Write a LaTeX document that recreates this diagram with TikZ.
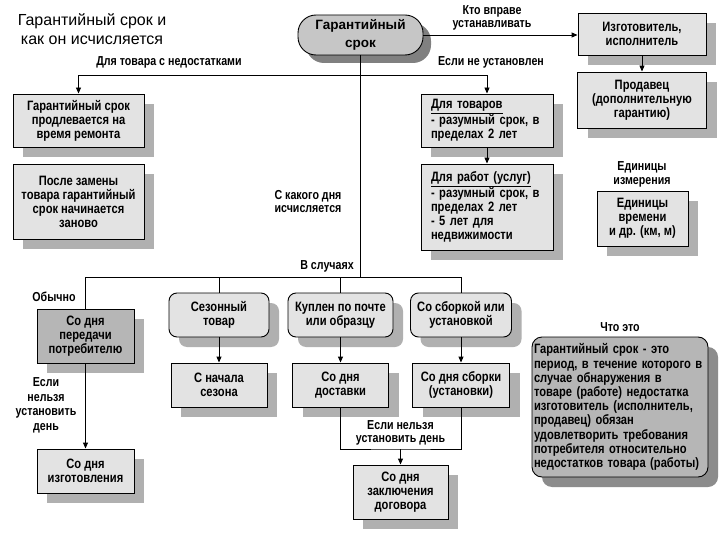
\documentclass[tikz,border=0pt]{standalone}
\usepackage{fontspec}
\setmainfont{Liberation Sans}
\newfontfamily\condf{Liberation Sans}[FakeStretch=0.82]
\usetikzlibrary{arrows.meta,shadows}
\definecolor{boxfill}{HTML}{E3E3E3}
\definecolor{shlight}{HTML}{B0B0B0}
\definecolor{rootfill}{HTML}{C6C6C6}
\definecolor{rootsh}{HTML}{808080}
\definecolor{darkfill}{HTML}{B6B6B6}
\definecolor{bigsh}{HTML}{8C8C8C}
\newcommand\bxfont{\condf\fontsize{13.6}{14}\selectfont\bfseries}
\newcommand\lbfont{\condf\fontsize{13}{13.5}\selectfont\bfseries}
\newcommand\rootfont{\fontsize{13.5}{18}\selectfont\bfseries}
\newcommand\ttlfont{\fontsize{16}{18.5}\selectfont}
\begin{document}
\begin{tikzpicture}[x=1pt,y=-1pt,
  wh/.style 2 args={minimum width=#1, minimum height=#2},
  base/.style={draw=black, line width=0.9pt, inner sep=2pt, align=center, font=\bxfont},
  lbox/.style={base, fill=boxfill, general shadow={fill=shlight, shadow xshift=10pt, shadow yshift=-10pt}},
  rbox/.style={lbox, rounded corners=8pt},
  dbox/.style={base, fill=darkfill, general shadow={fill=shlight, shadow xshift=10pt, shadow yshift=-10pt}},
  rootbox/.style={base, font=\rootfont, fill=rootfill, rounded corners=18pt, general shadow={fill=rootsh, shadow xshift=8pt, shadow yshift=-8pt}},
  bigbox/.style={base, fill=darkfill, rounded corners=10pt, general shadow={fill=bigsh, shadow xshift=10pt, shadow yshift=-10pt}},
  lbl/.style={font=\lbfont, align=center, inner sep=0pt},
  conn/.style={draw=black, line width=0.9pt},
  arr/.style={conn, -{Triangle[length=6pt,width=5pt]}}
]
\useasboundingbox (0,0) rectangle (720,540);
\fill[white] (0,0) rectangle (720,540);

% title
\node[font=\ttlfont, align=center, inner sep=0pt] (title) at (92,29) {Гарантийный срок и\\как он исчисляется};

% root and top right
\node[rootbox, wh={125pt}{40pt}] (root) at (360.5,35) {Гарантийный\\срок};
\node[lbox, wh={128pt}{42pt}] (izg) at (642,34) {Изготовитель,\\исполнитель};
\node[lbox, wh={129pt}{56pt}] (prod) at (642,100) {Продавец\\(дополнительную\\гарантию)};
\node[lbl] (kto) at (492,18) {Кто вправе\\устанавливать};

% left column
\node[lbox, wh={131pt}{53pt}] (prodl) at (78.5,120.5) {Гарантийный срок\\продлевается на\\время ремонта};
\node[lbox, wh={131pt}{75pt}] (zamena) at (78.5,201.5) {После замены\\товара гарантийный\\срок  начинается\\заново};
\node[lbl] (nedost) at (169,62) {Для товара с недостатками};

% right column
\node[lbox, wh={132pt}{53pt}, text width=112pt, inner xsep=10pt, align=left] (tovary) at (487,120.5) {\underline{Для товаров}\\- разумный срок,  в\\пределах 2 лет};
\node[lbox, wh={132pt}{86pt}, text width=112pt, inner xsep=10pt, align=left] (raboty) at (487,207) {\underline{Для работ (услуг)}\\- разумный срок,  в\\пределах 2 лет\\-  5 лет для\\недвижимости};
\node[lbl] (neust) at (491,62) {Если не установлен};
\node[lbl] (edlbl) at (642,174.5) {Единицы\\измерения};
\node[lbox, wh={91pt}{55pt}] (edin) at (642.5,218.5) {Единицы\\времени\\и др. (км, м)};

% middle labels
\node[lbl] (skak) at (308,201.5) {С какого дня\\исчисляется};
\node[lbl] (vsl) at (327,266) {В случаях};

% cases
\node[lbl] (obych) at (54,297) {Обычно};
\node[dbox, wh={97pt}{54pt}] (pered) at (85.5,336) {Со дня\\передачи\\потребителю};
\node[lbl, font=\condf\fontsize{13}{14.5}\selectfont\bfseries] (nelz1) at (46,405.5) {Если\\нельзя\\установить\\день};
\node[lbox, wh={97pt}{44pt}] (izgot) at (85.5,471) {Со дня\\изготовления};

\node[rbox, wh={100pt}{44pt}] (sezon) at (219,315) {Сезонный\\товар};
\node[rbox, wh={105pt}{44pt}] (pochta) at (340.5,315) {Куплен по почте\\или образцу};
\node[rbox, wh={101pt}{44pt}] (sborka) at (461,315) {Со сборкой или\\установкой};

\node[lbox, wh={96pt}{44pt}] (nachala) at (219,385) {С начала\\сезона};
\node[lbox, wh={96pt}{44pt}] (dostav) at (340.5,385) {Со дня\\доставки};
\node[lbox, wh={97pt}{44pt}] (sborki) at (461,385) {Со дня  сборки\\(установки)};

\node[lbl] (nelz2) at (400.5,433) {Если нельзя\\установить день};
\node[lbox, wh={95pt}{54pt}] (zakl) at (400.5,492) {Со дня\\заключения\\договора};

% definition
\node[lbl] (chtolbl) at (620,327) {Что это};
\node[bigbox, wh={176pt}{140pt}, text width=172pt, inner xsep=2pt, align=left, font=\condf\fontsize{13.6}{14.2}\selectfont\bfseries] (chto) at (620,407) {Гарантийный срок - это\\период, в течение которого в\\случае обнаружения в\\товаре (работе) недостатка\\изготовитель (исполнитель,\\продавец) обязан\\удовлетворить требования\\потребителя относительно\\недостатков товара (работы)};

% connectors
\coordinate (j1) at (360.5,75);
\coordinate (j2) at (360.5,277);
\coordinate (b) at (400.5,449);
\draw[arr] (root.east) -- (root.east -| izg.west);
\draw[arr] (izg.south) -- (prod.north);
\draw[conn] (root.south) -- (j2);
\draw[arr] (j1) -| (prodl.north);
\draw[arr] (j1) -| (tovary.north);
\draw[arr] (tovary.south) -- (raboty.north);
\draw[conn] (j2) -| (pered.north);
\draw[conn] (j2) -| (sezon.north);
\draw[conn] (j2) -| (pochta.north);
\draw[conn] (j2) -| (sborka.north);
\draw[arr] (pered.south) -- (izgot.north);
\draw[arr] (sezon.south) -- (nachala.north);
\draw[arr] (pochta.south) -- (dostav.north);
\draw[arr] (sborka.south) -- (sborki.north);
\draw[conn] (dostav.south) |- (b) -| (sborki.south);
\draw[arr] (b) -- (zakl.north);
\end{tikzpicture}
\end{document}
